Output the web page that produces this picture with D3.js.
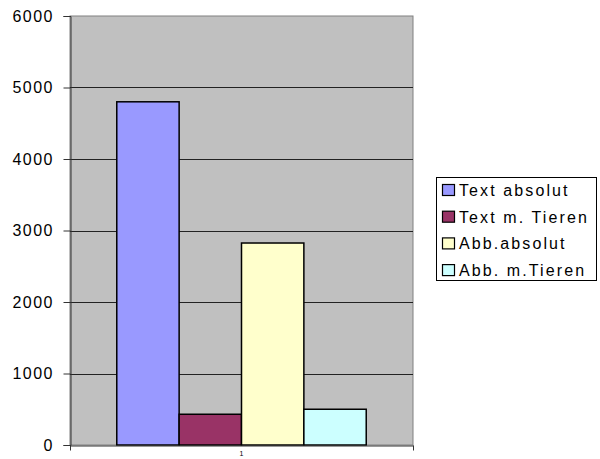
<!DOCTYPE html>
<html>
<head>
<meta charset="utf-8">
<script src="https://cdn.jsdelivr.net/npm/d3@7"></script>
<style>
  body { margin: 0; background: #fff; }
  text { font-family: "Liberation Sans", Arial, sans-serif; }
</style>
</head>
<body>
<div id="chart"></div>
<script>
// data
const categories = ["1"];
const seriesNames = ["Text absolut", "Text m. Tieren", "Abb.absolut", "Abb. m.Tieren"];
const seriesValues = [4800, 430, 2825, 500];
const seriesColors = ["#9999FF", "#993366", "#FFFFCC", "#CCFFFF"];
const yTicks = [0, 1000, 2000, 3000, 4000, 5000, 6000];

const width = 600, height = 459;
const plot = {left: 70, top: 16, right: 413, bottom: 445};

const svg = d3.select("#chart").append("svg")
    .attr("width", width)
    .attr("height", height);

let y = d3.scaleLinear()
    .domain([0, 6000])
    .range([plot.bottom, plot.top]);

// category band, Excel style gap width 150%
let x0 = d3.scaleBand()
    .domain(categories)
    .range([plot.left, plot.right])
    .paddingInner(0)
    .paddingOuter(0);

let groupW = x0.bandwidth();
let barW = groupW / (seriesNames.length + 1.5);

let x1 = d3.scaleBand()
    .domain(seriesNames)
    .range([0.75 * barW, groupW - 0.75 * barW]);

// plot background
svg.append("rect")
    .attr("x", plot.left)
    .attr("y", plot.top)
    .attr("width", plot.right - plot.left)
    .attr("height", plot.bottom - plot.top)
    .attr("fill", "#C0C0C0")
    .attr("stroke", "#808080")
    .attr("stroke-width", 1);

// gridlines
svg.append("g").selectAll("line")
    .data(yTicks.filter(d => d > 0 && d < 6000))
    .enter().append("line")
    .attr("x1", plot.left)
    .attr("x2", plot.right)
    .attr("y1", d => Math.round(y(d)) + 0.5)
    .attr("y2", d => Math.round(y(d)) + 0.5)
    .attr("stroke", "#222")
    .attr("stroke-width", 1);

// bars
svg.append("g").selectAll("rect")
    .data(seriesNames.map((n, i) => ({name: n, value: seriesValues[i], color: seriesColors[i]})))
    .enter().append("rect")
    .attr("x", d => x0(categories[0]) + x1(d.name))
    .attr("y", d => y(d.value))
    .attr("width", x1.bandwidth())
    .attr("height", d => y(0) - y(d.value))
    .attr("fill", d => d.color)
    .attr("stroke", "#000")
    .attr("stroke-width", 1.5);

// y axis
let yAxis = d3.axisLeft(y)
    .tickValues(yTicks)
    .tickSize(7)
    .tickPadding(9.5)
    .tickFormat(d3.format("d"));

let gy = svg.append("g")
    .attr("transform", "translate(" + (plot.left + 0.5) + ",0)")
    .call(yAxis);
gy.select(".domain").attr("stroke", "#333");
gy.selectAll(".tick line").attr("stroke", "#333");
gy.selectAll(".tick text")
    .style("font-size", "16px")
    .style("letter-spacing", "1.5px")
    .attr("fill", "#000");

// x axis
let xAxis = d3.axisBottom(x0)
    .tickSize(0)
    .tickPadding(6);

let gx = svg.append("g")
    .attr("transform", "translate(0," + (plot.bottom + 0.5) + ")")
    .call(xAxis);
gx.select(".domain").attr("stroke", "#333");
gx.selectAll(".tick text")
    .style("font-size", "7px")
    .attr("fill", "#000");

// small outer ticks at both ends of x axis
gx.selectAll(".endtick")
    .data(x0.range())
    .enter().append("line")
    .attr("class", "endtick")
    .attr("x1", d => d + 0.5)
    .attr("x2", d => d + 0.5)
    .attr("y1", 0)
    .attr("y2", 5)
    .attr("stroke", "#333");

// legend
let legend = svg.append("g").attr("transform", "translate(436,177)");

legend.append("rect")
    .attr("x", 0.5)
    .attr("y", 0.5)
    .attr("width", 160)
    .attr("height", 103)
    .attr("fill", "#fff")
    .attr("stroke", "#000")
    .attr("stroke-width", 1);

let item = legend.selectAll(".item")
    .data(seriesNames)
    .enter().append("g")
    .attr("class", "item")
    .attr("transform", (d, i) => "translate(6," + (19 + i * 26.7) + ")");

item.append("rect")
    .attr("x", 0.5)
    .attr("y", -11.5)
    .attr("width", 12)
    .attr("height", 11)
    .attr("fill", (d, i) => seriesColors[i])
    .attr("stroke", "#000")
    .attr("stroke-width", 1.2);

item.append("text")
    .attr("x", 17)
    .attr("y", 0)
    .style("font-size", "16px")
    .style("letter-spacing", "2.1px")
    .text(d => d);
</script>
</body>
</html>
